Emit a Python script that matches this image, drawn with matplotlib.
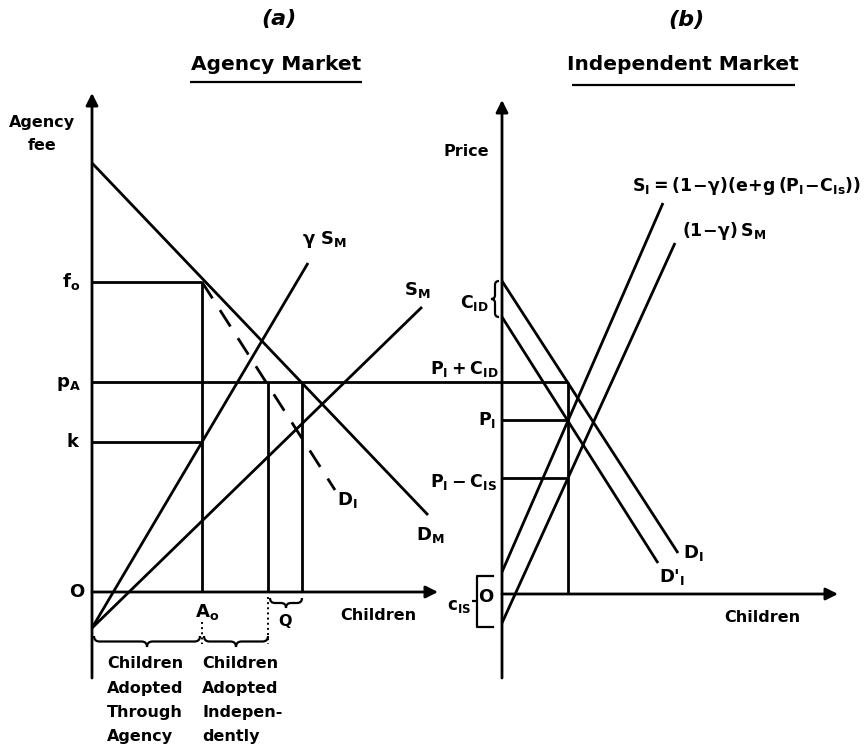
import matplotlib
matplotlib.use("Agg")
import matplotlib.pyplot as plt
from matplotlib.path import Path
from matplotlib.patches import PathPatch

plt.rcParams['font.family'] = ['DejaVu Sans']
plt.rcParams['font.weight'] = 'bold'

# schematic coordinates (image pixels, y grows downward)
# panel (a) agency market
a_axis_x = 92
a_axis_y = 592
a_axis_top = 93
a_axis_bottom = 678
a_axis_right = 438
DM_line = [(92, 163), (428, 515)]
DI_a_line = [(202, 282), (335, 490)]          # dashed
gSM_line = [(92, 628), (308, 263)]
SM_line = [(92, 628), (422, 307)]
f0_y, pA_y, k_y = 282, 382, 442
A0_x, indep_x, q_x = 202, 268, 302

# panel (b) independent market
b_axis_x = 502
b_axis_y = 594
b_axis_top = 100
b_axis_bottom = 678
b_axis_right = 838
DI_b_line = [(502, 281), (678, 553)]
DIp_b_line = [(502, 317), (658, 563)]
SI_line = [(502, 572), (663, 203)]
S1g_line = [(502, 623), (675, 243)]
PI_y, PIc_y = 420, 478
eq_x = 568

LW = 2.0

fig = plt.figure(figsize=(8.66, 7.51), dpi=100)
ax = fig.add_axes([0, 0, 1, 1])
ax.set_xlim(0, 866)
ax.set_ylim(751, 0)
ax.axis('off')


def seg(p, q, **kw):
    ax.plot([p[0], q[0]], [p[1], q[1]], color='k', lw=kw.pop('lw', LW),
            solid_capstyle='butt', **kw)


def arrow(p, q):
    ax.annotate('', xy=q, xytext=p,
                arrowprops=dict(arrowstyle='-|>', color='k', lw=LW,
                                mutation_scale=18, shrinkA=0, shrinkB=0))


def hbrace(x0, x1, y, h):
    xm = (x0 + x1) / 2
    r = h / 2
    v = [(x0, y), (x0, y + h / 2), (x0 + r, y + h / 2), (xm - r, y + h / 2),
         (xm, y + h / 2), (xm, y + h), (xm, y + h / 2), (xm + r, y + h / 2),
         (x1 - r, y + h / 2), (x1, y + h / 2), (x1, y)]
    c = [Path.MOVETO, Path.CURVE3, Path.CURVE3, Path.LINETO, Path.CURVE3,
         Path.CURVE3, Path.CURVE3, Path.CURVE3, Path.LINETO, Path.CURVE3, Path.CURVE3]
    ax.add_patch(PathPatch(Path(v, c), fill=False, lw=1.6, color='k'))


def vbrace(y0, y1, x, w):
    ym = (y0 + y1) / 2
    r = w / 2
    v = [(x, y0), (x - w / 2, y0), (x - w / 2, y0 + r), (x - w / 2, ym - r),
         (x - w / 2, ym), (x - w, ym), (x - w / 2, ym), (x - w / 2, ym + r),
         (x - w / 2, y1 - r), (x - w / 2, y1), (x, y1)]
    c = [Path.MOVETO, Path.CURVE3, Path.CURVE3, Path.LINETO, Path.CURVE3,
         Path.CURVE3, Path.CURVE3, Path.CURVE3, Path.LINETO, Path.CURVE3, Path.CURVE3]
    ax.add_patch(PathPatch(Path(v, c), fill=False, lw=1.6, color='k'))


# ---- panel (a)
arrow((a_axis_x, a_axis_bottom), (a_axis_x, a_axis_top))
arrow((a_axis_x, a_axis_y), (a_axis_right, a_axis_y))
seg(*DM_line)
seg(*DI_a_line, dashes=(7, 5))
seg(*gSM_line)
seg(*SM_line)
seg((a_axis_x, f0_y), (A0_x, f0_y))
seg((A0_x, f0_y), (A0_x, a_axis_y))
seg((a_axis_x, k_y), (A0_x, k_y))
seg((a_axis_x, pA_y), (eq_x, pA_y))
seg((indep_x, pA_y), (indep_x, a_axis_y))
seg((q_x, pA_y), (q_x, a_axis_y))
seg((A0_x, 622), (A0_x, 644), lw=1.4, ls=':')
seg((indep_x, 597), (indep_x, 644), lw=1.4, ls=':')
hbrace(indep_x + 2, q_x, 598, 10)
hbrace(94, A0_x - 2, 636, 11)
hbrace(A0_x + 2, indep_x, 636, 11)

# ---- panel (b)
arrow((b_axis_x, b_axis_bottom), (b_axis_x, b_axis_top))
arrow((b_axis_x, b_axis_y), (b_axis_right, b_axis_y))
seg(*DI_b_line)
seg(*DIp_b_line)
seg(*SI_line)
seg(*S1g_line)
seg((b_axis_x, PI_y), (eq_x, PI_y))
seg((b_axis_x, PIc_y), (eq_x, PIc_y))
seg((eq_x, pA_y), (eq_x, b_axis_y))
vbrace(281, 317, 499, 8)
ax.plot([493, 477, 477, 493], [576, 576, 627, 627], color='k', lw=1.6)
seg((472, 601), (477, 601), lw=1.6)

# ---- texts
fs = 11.5
ax.text(279, 19, '(a)', fontsize=16, style='italic', ha='center', va='center')
ax.text(276, 64, 'Agency Market', fontsize=14.5, ha='center', va='center')
seg((190, 82), (362, 82), lw=1.6)
ax.text(686, 20, '(b)', fontsize=16, style='italic', ha='center', va='center')
ax.text(683, 65, 'Independent Market', fontsize=14.5, ha='center', va='center')
seg((572, 85), (795, 85), lw=1.6)

ax.text(42, 134, 'Agency\nfee', fontsize=fs, ha='center', va='center', linespacing=1.75)
ax.text(62, 282, r'$\mathregular{f_o}$', fontsize=13, ha='left', va='center')
ax.text(56, 384, r'$\mathregular{p_A}$', fontsize=13, ha='left', va='center')
ax.text(72, 442, 'k', fontsize=13, ha='center', va='center')
ax.text(77, 592, 'O', fontsize=13, ha='center', va='center')
ax.text(302, 240, r'$\mathregular{\gamma\ S_M}$', fontsize=13, ha='left', va='center')
ax.text(404, 290, r'$\mathregular{S_M}$', fontsize=13, ha='left', va='center')
ax.text(337, 500, r'$\mathregular{D_I}$', fontsize=13, ha='left', va='center')
ax.text(416, 535, r'$\mathregular{D_M}$', fontsize=13, ha='left', va='center')
ax.text(207, 612, r'$\mathregular{A_o}$', fontsize=13, ha='center', va='center')
ax.text(285, 622, 'Q', fontsize=fs, ha='center', va='center')
ax.text(378, 615, 'Children', fontsize=fs, ha='center', va='center')
ax.text(107, 700, 'Children\nAdopted\nThrough\nAgency', fontsize=fs, ha='left',
        va='center', linespacing=1.75)
ax.text(202, 700, 'Children\nAdopted\nIndepen-\ndently', fontsize=fs, ha='left',
        va='center', linespacing=1.75)

ax.text(466, 152, 'Price', fontsize=fs, ha='center', va='center')
ax.text(632, 186, r'$\mathregular{S_I = (1\!-\!\gamma)(e\!+\!g\,(P_I\!-\!C_{Is}))}$',
        fontsize=12.5, ha='left', va='center')
ax.text(682, 231, r'$\mathregular{(1\!-\!\gamma)\,S_M}$', fontsize=12.5, ha='left', va='center')
ax.text(489, 303, r'$\mathregular{C_{ID}}$', fontsize=12.5, ha='right', va='center')
ax.text(499, 369, r'$\mathregular{P_I + C_{ID}}$', fontsize=12.5, ha='right', va='center')
ax.text(496, 420, r'$\mathregular{P_I}$', fontsize=12.5, ha='right', va='center')
ax.text(497, 482, r'$\mathregular{P_I - C_{IS}}$', fontsize=12.5, ha='right', va='center')
ax.text(683, 553, r'$\mathregular{D_I}$', fontsize=13, ha='left', va='center')
ax.text(659, 577, r"D'$\mathregular{_I}$", fontsize=13, ha='left', va='center')
ax.text(486, 597, 'O', fontsize=13, ha='center', va='center')
ax.text(471, 606, r'$\mathregular{c_{IS}}$', fontsize=12, ha='right', va='center')
ax.text(762, 617, 'Children', fontsize=fs, ha='center', va='center')

fig.savefig('out.png', dpi=100)
